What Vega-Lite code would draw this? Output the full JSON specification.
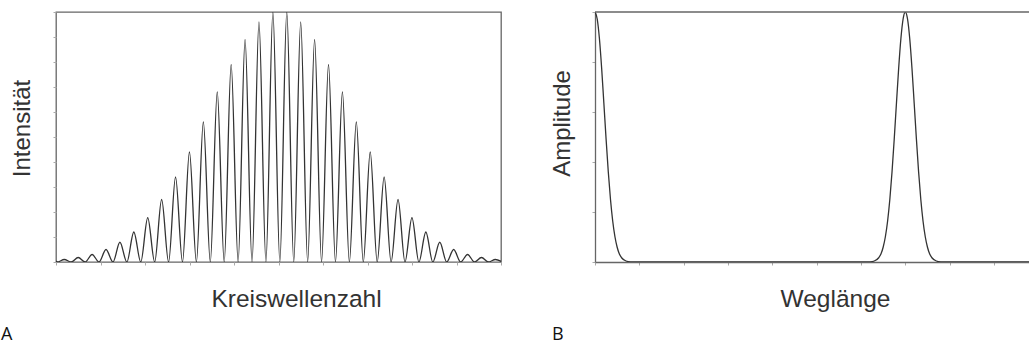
{
  "$schema": "https://vega.github.io/schema/vega-lite/v6.json",
  "background": "white",
  "padding": {"left": 0, "top": 10, "right": 0, "bottom": 0},
  "spacing": 47,
  "config": {
    "font": "Liberation Sans",
    "axis": {
      "labels": false, "grid": false, "tickSize": 3, "tickColor": "#aaa", "tickWidth": 1,
      "titleFont": "Liberation Sans", "titleFontSize": 24, "titleFontWeight": "normal", "titleColor": "#333",
      "domainColor": "#666", "domainWidth": 1.3
    },
    "title": {"font": "Open Sans", "fontSize": 18, "fontWeight": "normal", "color": "#111"}
  },
  "datasets": {
    "A": [
      {"x": 0, "y": 0.004},
      {"x": 0.03, "y": 0}, {"x": 0.18625, "y": 0.01}, {"x": 0.3425, "y": 0}, {"x": 0.49875, "y": 0.018},
      {"x": 0.655, "y": 0}, {"x": 0.81125, "y": 0.03}, {"x": 0.9675, "y": 0}, {"x": 1.12375, "y": 0.05},
      {"x": 1.28, "y": 0}, {"x": 1.43625, "y": 0.079}, {"x": 1.5925, "y": 0}, {"x": 1.74875, "y": 0.12},
      {"x": 1.905, "y": 0}, {"x": 2.06125, "y": 0.177}, {"x": 2.2175, "y": 0}, {"x": 2.37375, "y": 0.25},
      {"x": 2.53, "y": 0}, {"x": 2.68625, "y": 0.34}, {"x": 2.8425, "y": 0}, {"x": 2.99875, "y": 0.44},
      {"x": 3.155, "y": 0}, {"x": 3.31125, "y": 0.56}, {"x": 3.4675, "y": 0}, {"x": 3.62375, "y": 0.68},
      {"x": 3.78, "y": 0}, {"x": 3.93625, "y": 0.79}, {"x": 4.0925, "y": 0}, {"x": 4.24875, "y": 0.89},
      {"x": 4.405, "y": 0}, {"x": 4.56125, "y": 0.96}, {"x": 4.7175, "y": 0}, {"x": 4.87375, "y": 1.0},
      {"x": 5.03, "y": 0}, {"x": 5.18625, "y": 1.0}, {"x": 5.3425, "y": 0}, {"x": 5.49875, "y": 0.96},
      {"x": 5.655, "y": 0}, {"x": 5.81125, "y": 0.89}, {"x": 5.9675, "y": 0}, {"x": 6.12375, "y": 0.79},
      {"x": 6.28, "y": 0}, {"x": 6.43625, "y": 0.68}, {"x": 6.5925, "y": 0}, {"x": 6.74875, "y": 0.56},
      {"x": 6.905, "y": 0}, {"x": 7.06125, "y": 0.44}, {"x": 7.2175, "y": 0}, {"x": 7.37375, "y": 0.34},
      {"x": 7.53, "y": 0}, {"x": 7.68625, "y": 0.25}, {"x": 7.8425, "y": 0}, {"x": 7.99875, "y": 0.177},
      {"x": 8.155, "y": 0}, {"x": 8.31125, "y": 0.12}, {"x": 8.4675, "y": 0}, {"x": 8.62375, "y": 0.079},
      {"x": 8.78, "y": 0}, {"x": 8.93625, "y": 0.05}, {"x": 9.0925, "y": 0}, {"x": 9.24875, "y": 0.03},
      {"x": 9.405, "y": 0}, {"x": 9.56125, "y": 0.018}, {"x": 9.7175, "y": 0}, {"x": 9.87375, "y": 0.01},
      {"x": 10.03, "y": 0}
    ],
    "B": [
      {"x": 0, "y": 1.0}, {"x": 0.05, "y": 0.972}, {"x": 0.1, "y": 0.893}, {"x": 0.15, "y": 0.775},
      {"x": 0.2, "y": 0.635}, {"x": 0.25, "y": 0.492}, {"x": 0.3, "y": 0.36}, {"x": 0.35, "y": 0.249},
      {"x": 0.4, "y": 0.163}, {"x": 0.45, "y": 0.101}, {"x": 0.5, "y": 0.059}, {"x": 0.55, "y": 0.032},
      {"x": 0.6, "y": 0.017}, {"x": 0.7, "y": 0.004}, {"x": 0.8, "y": 0.0007}, {"x": 0.9, "y": 0},
      {"x": 6.1, "y": 0}, {"x": 6.2, "y": 0.0007}, {"x": 6.3, "y": 0.004}, {"x": 6.4, "y": 0.017},
      {"x": 6.45, "y": 0.032}, {"x": 6.5, "y": 0.059}, {"x": 6.55, "y": 0.101}, {"x": 6.6, "y": 0.163},
      {"x": 6.65, "y": 0.249}, {"x": 6.7, "y": 0.36}, {"x": 6.75, "y": 0.492}, {"x": 6.8, "y": 0.635},
      {"x": 6.85, "y": 0.775}, {"x": 6.9, "y": 0.893}, {"x": 6.95, "y": 0.972}, {"x": 7.0, "y": 1.0},
      {"x": 7.05, "y": 0.972}, {"x": 7.1, "y": 0.893}, {"x": 7.15, "y": 0.775}, {"x": 7.2, "y": 0.635},
      {"x": 7.25, "y": 0.492}, {"x": 7.3, "y": 0.36}, {"x": 7.35, "y": 0.249}, {"x": 7.4, "y": 0.163},
      {"x": 7.45, "y": 0.101}, {"x": 7.5, "y": 0.059}, {"x": 7.55, "y": 0.032}, {"x": 7.6, "y": 0.017},
      {"x": 7.7, "y": 0.004}, {"x": 7.8, "y": 0.0007}, {"x": 7.9, "y": 0}, {"x": 9.79, "y": 0}
    ]
  },
  "hconcat": [
    {
      "width": 445,
      "height": 250,
      "view": {"stroke": "#666", "strokeWidth": 1.3},
      "title": {"text": "A", "orient": "bottom", "anchor": "start", "frame": "bounds", "dx": -9, "offset": 15},
      "data": {"name": "A"},
      "mark": {"type": "line", "interpolate": "monotone", "color": "#333", "strokeWidth": 1.3, "clip": true},
      "encoding": {
        "x": {"field": "x", "type": "quantitative", "scale": {"domain": [0, 10], "nice": false, "zero": false},
              "axis": {"title": "Kreiswellenzahl", "titleFontSize": 24.5, "values": [0,1,2,3,4,5,6,7,8,9,10], "domain": false, "titleX": 240, "titlePadding": 22}},
        "y": {"field": "y", "type": "quantitative", "scale": {"domain": [0, 1], "nice": false},
              "axis": {"title": "Intensität", "values": [0,0.1,0.2,0.3,0.4,0.5,0.6,0.7,0.8,0.9,1], "domain": false, "titleX": -27, "titleY": 116, "titleBaseline": "alphabetic"}}
      }
    },
    {
      "width": 434,
      "height": 250,
      "view": {"stroke": null},
      "title": {"text": "B", "orient": "bottom", "anchor": "start", "frame": "bounds", "dx": 2, "offset": 15},
      "layer": [
        {
          "data": {"name": "B"},
          "mark": {"type": "line", "interpolate": "monotone", "color": "#333", "strokeWidth": 1.3, "clip": true},
          "encoding": {
            "x": {"field": "x", "type": "quantitative", "scale": {"domain": [0, 9.79], "nice": false, "zero": false},
                  "axis": {"title": "Weglänge", "titleFontSize": 24.5, "values": [0,1,2,3,4,5,6,7,8,9], "domain": true, "titleX": 240, "titlePadding": 22}},
            "y": {"field": "y", "type": "quantitative", "scale": {"domain": [0, 1], "nice": false},
                  "axis": {"title": "Amplitude", "values": [0,0.1,0.2,0.3,0.4,0.5,0.6,0.7,0.8,0.9,1], "domain": true, "titleX": -26, "titleY": 111, "titleBaseline": "alphabetic"}}
          }
        },
        {
          "data": {"values": [{"v": 1}]},
          "mark": {"type": "rule", "color": "#666", "strokeWidth": 1.3},
          "encoding": {"y": {"field": "v", "type": "quantitative"}}
        }
      ]
    }
  ]
}
